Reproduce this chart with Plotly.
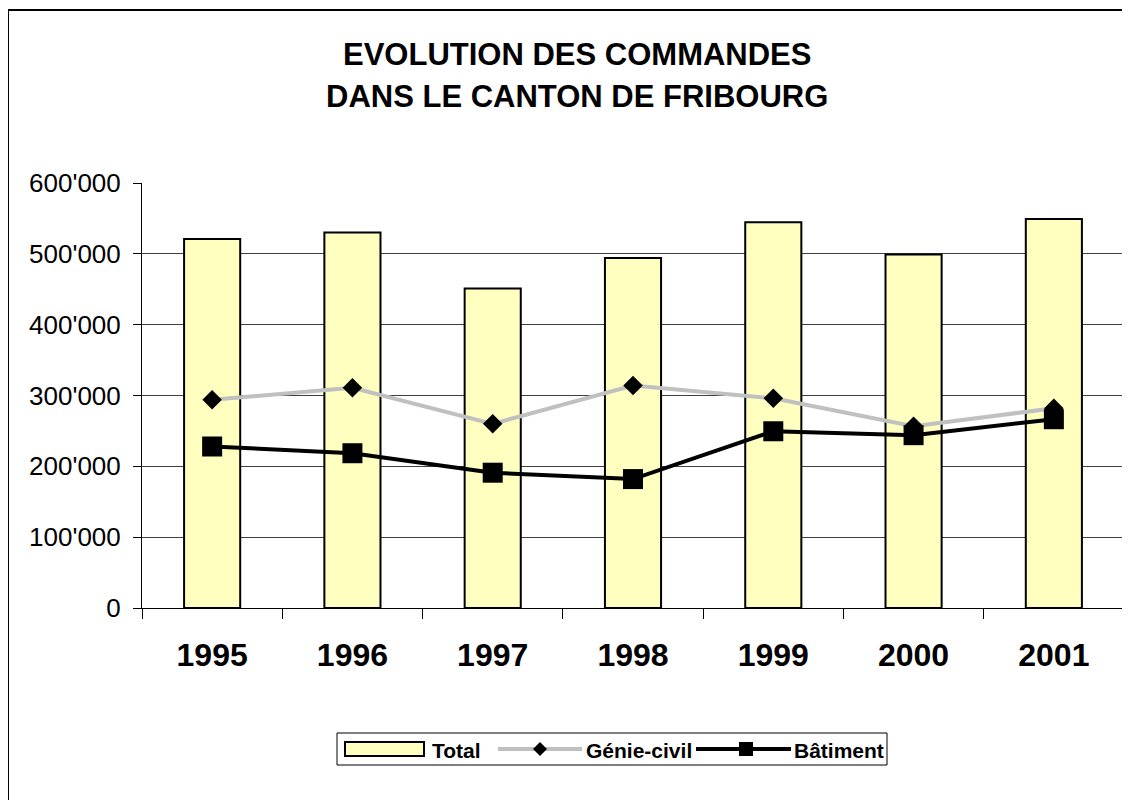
import plotly.graph_objects as go

years = ["1995", "1996", "1997", "1998", "1999", "2000", "2001"]
total = [521000, 530000, 451000, 494000, 544500, 499000, 549200]
genie_civil = [294000, 311000, 260000, 314000, 296000, 256500, 282000]
batiment = [228000, 218500, 191000, 182000, 249500, 244000, 266500]

title_lines = ["EVOLUTION DES COMMANDES", "DANS LE CANTON DE FRIBOURG"]
series_names = ["Total", "Génie-civil", "Bâtiment"]

FONT = "Arial, 'Liberation Sans', sans-serif"
OFF = 8  # page body margin in the browser
W, H = 1130 - OFF, 800 - OFF
L, R, T, B = 142 - OFF, 6, 183 - OFF, 192
BAR_FILL = "#FFFFC0"
GREY = "#C0C0C0"


def px_x(p):
    return (p - OFF - L) / (W - L - R)


def px_y(p):
    return (H - B - (p - OFF)) / (H - T - B)


fig = go.Figure()
fig.add_trace(go.Bar(
    x=years, y=total, name=series_names[0],
    marker=dict(color=BAR_FILL, line=dict(color="black", width=2)),
))
fig.add_trace(go.Scatter(
    x=years, y=genie_civil, name=series_names[1], mode="lines+markers",
    line=dict(color=GREY, width=4),
    marker=dict(symbol="diamond", size=15, color="black"),
))
fig.add_trace(go.Scatter(
    x=years, y=batiment, name=series_names[2], mode="lines+markers",
    line=dict(color="black", width=4),
    marker=dict(symbol="square", size=20, color="black"),
))

shapes = []
annotations = []

# title
for txt, yc in zip(title_lines, [54, 96]):
    annotations.append(dict(
        text="<b>%s</b>" % txt, x=px_x(577), y=px_y(yc), xref="paper", yref="paper",
        xanchor="center", yanchor="middle", showarrow=False,
        font=dict(family=FONT, size=31, color="black"),
    ))

# outer frame
shapes.append(dict(type="rect", xref="paper", yref="paper",
                   x0=px_x(8), x1=px_x(1140), y0=px_y(810), y1=px_y(10),
                   line=dict(color="black", width=2), fillcolor="rgba(0,0,0,0)"))

# custom legend
ly0, ly1 = 733, 765
lyc = (ly0 + ly1) / 2
shapes.append(dict(type="rect", xref="paper", yref="paper",
                   x0=px_x(337), x1=px_x(887), y0=px_y(ly1), y1=px_y(ly0),
                   line=dict(color="black", width=1), fillcolor="white"))
shapes.append(dict(type="rect", xref="paper", yref="paper",
                   x0=px_x(345), x1=px_x(424), y0=px_y(lyc + 7), y1=px_y(lyc - 7),
                   line=dict(color="black", width=2), fillcolor=BAR_FILL))
shapes.append(dict(type="line", xref="paper", yref="paper",
                   x0=px_x(498), x1=px_x(582), y0=px_y(lyc), y1=px_y(lyc),
                   line=dict(color=GREY, width=4)))
dcx, dr = 540, 7
shapes.append(dict(type="path", xref="paper", yref="paper",
                   path="M %f %f L %f %f L %f %f L %f %f Z" % (
                       px_x(dcx - dr), px_y(lyc), px_x(dcx), px_y(lyc - dr),
                       px_x(dcx + dr), px_y(lyc), px_x(dcx), px_y(lyc + dr)),
                   line=dict(color="black", width=0), fillcolor="black"))
shapes.append(dict(type="line", xref="paper", yref="paper",
                   x0=px_x(696), x1=px_x(791), y0=px_y(lyc), y1=px_y(lyc),
                   line=dict(color="black", width=4)))
scx, sr = 746, 7
shapes.append(dict(type="rect", xref="paper", yref="paper",
                   x0=px_x(scx - sr), x1=px_x(scx + sr), y0=px_y(lyc + sr), y1=px_y(lyc - sr),
                   line=dict(color="black", width=0), fillcolor="black"))
for name, xl in zip(series_names, [430, 584, 792]):
    annotations.append(dict(
        text="<b>%s</b>" % name, x=px_x(xl), y=px_y(lyc + 1), xref="paper", yref="paper",
        xanchor="left", yanchor="middle", showarrow=False,
        font=dict(family=FONT, size=21, color="black"),
    ))

fig.update_layout(
    width=W, height=H,
    margin=dict(l=L, r=R, t=T, b=B, pad=0),
    paper_bgcolor="white", plot_bgcolor="white",
    separators=".'",
    showlegend=False,
    bargap=0.6,
    shapes=shapes,
    annotations=annotations,
    font=dict(family=FONT, color="black"),
)
fig.update_xaxes(
    type="category", categoryorder="array", categoryarray=years,
    showline=True, linecolor="black", linewidth=1,
    ticks="outside", tickson="boundaries", ticklen=10, tickcolor="black", tickwidth=1,
    showgrid=False,
    tickfont=dict(family=FONT, size=32, color="black"),
    tickprefix="<b>", ticksuffix="</b>",
    ticklabelstandoff=19,
)
fig.update_yaxes(
    range=[0, 600000], dtick=100000, tickformat=",d",
    showline=True, linecolor="black", linewidth=1, mirror=True,
    ticks="outside", ticklen=8, tickcolor="black", tickwidth=1,
    showgrid=True, gridcolor="#404040", gridwidth=1,
    zeroline=False,
    tickfont=dict(family=FONT, size=26, color="black"),
    ticklabelstandoff=7,
)

fig.write_html("out.html")
